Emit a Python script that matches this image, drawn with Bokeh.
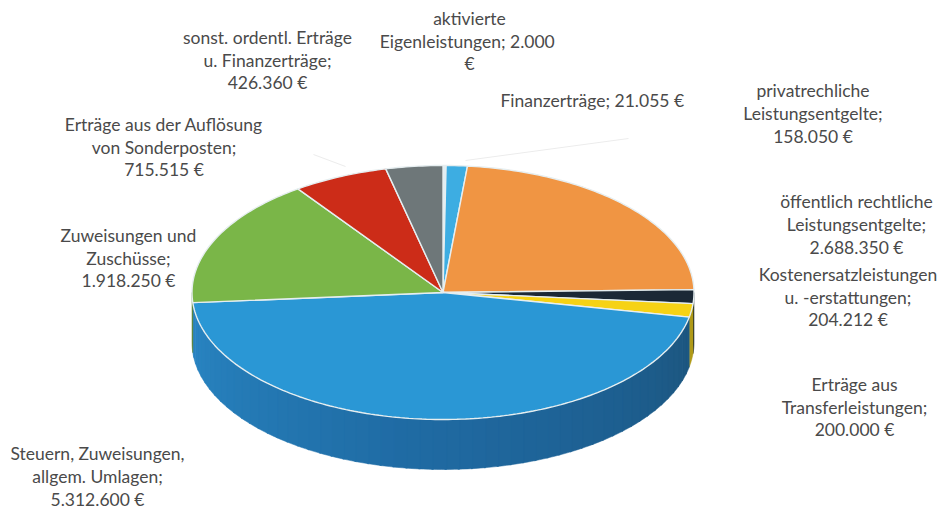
import numpy as np
from bokeh.plotting import figure
from bokeh.models import Range1d
from bokeh.embed import file_html
from bokeh.resources import INLINE
from bokeh.core.properties import value

names = ["aktivierte Eigenleistungen", "Finanzerträge", "privatrechtliche Leistungsentgelte",
         "öffentlich rechtliche Leistungsentgelte", "Kostenersatzleistungen u. -erstattungen",
         "Erträge aus Transferleistungen", "Steuern, Zuweisungen, allgem. Umlagen",
         "Zuweisungen und Zuschüsse", "Erträge aus der Auflösung von Sonderposten",
         "sonst. ordentl. Erträge u. Finanzerträge"]
amounts = [2000, 21055, 158050, 2688350, 204212, 200000, 5312600, 1918250, 715515, 426360]
top_colors = ["#dfeef5", "#dfeef5", "#3dade2", "#f09543", "#1b2836", "#f6d215", "#2a97d5",
              "#7ab648", "#cc2c18", "#6e7779"]
side_colors = ["#8a9aa0", "#2a7fa8", "#2a7fa8", "#a86a30", "#10202c", "#b09a18", "#2478b0",
               "#567f32", "#8f1f10", "#4d5355"]

label_lines = [
    ["aktivierte", "Eigenleistungen;  2.000", "€"],
    ["Finanzerträge;  21.055 €"],
    ["privatrechliche", "Leistungsentgelte;", "158.050 €"],
    ["öffentlich rechtliche", "Leistungsentgelte;", "2.688.350 €"],
    ["Kostenersatzleistungen", "u. -erstattungen;", "204.212 €"],
    ["Erträge aus", "Transferleistungen;", "200.000 €"],
    ["Steuern, Zuweisungen,", "allgem. Umlagen;", "5.312.600 €"],
    ["Zuweisungen und", "Zuschüsse;", "1.918.250 €"],
    ["Erträge aus der Auflösung", "von Sonderposten;", "715.515 €"],
    ["sonst. ordentl. Erträge", "u. Finanzerträge;", "426.360 €"],
]
# layout: label centre x and y of first line, in image pixels
label_pos = [(469, 18), (594, 100), (812.5, 90), (856, 201), (847.5, 274), (854, 384),
             (97, 453), (128, 235), (163.5, 124), (267, 37)]
label_gap = [22.5, 23, 23, 23, 22.5, 22.5, 23, 22.5, 22.5, 22.5]

CX, CY, RX, RY, DEPTH = 442.5, 292, 251, 127, 50

p = figure(width=940, height=510, output_backend="svg", toolbar_location=None,
           x_range=Range1d(0, 940), y_range=Range1d(510, 0),
           x_axis_location=None, y_axis_location=None, min_border=0)
p.outline_line_color = None
p.grid.visible = False
p.background_fill_color = "#ffffff"
p.border_fill_color = "#ffffff"


def ex(a):
    return CX + RX * np.sin(np.radians(a))


def ey(a):
    return CY - RY * np.cos(np.radians(a))


edges = np.concatenate([[0], np.cumsum(amounts)]) * 360.0 / sum(amounts)

# walls (only the front half of the ellipse shows)
wx, wy, wc = [], [], []
blue_stops = [(90, (29, 84, 122)), (140, (30, 96, 146)), (190, (32, 108, 165)),
              (240, (38, 125, 185)), (270, (44, 135, 198))]
for i, col in enumerate(side_colors):
    a0, a1 = max(edges[i], 90), min(edges[i + 1], 270)
    if a1 <= a0:
        continue
    if names[i].startswith("Steuern"):
        steps = np.arange(a0, a1, 3.0)
        for s in steps:
            e = min(s + 3.4, a1)
            t = np.linspace(s, e, 4)
            wx.append(np.concatenate([ex(t), ex(t[::-1])]))
            wy.append(np.concatenate([ey(t), ey(t[::-1]) + DEPTH]))
            m = (s + e) / 2
            xs = [b[0] for b in blue_stops]
            rgb = [int(np.interp(m, xs, [b[1][k] for b in blue_stops])) for k in range(3)]
            wc.append("#%02x%02x%02x" % tuple(rgb))
    else:
        t = np.linspace(a0, a1, 30)
        wx.append(np.concatenate([ex(t), ex(t[::-1])]))
        wy.append(np.concatenate([ey(t), ey(t[::-1]) + DEPTH]))
        wc.append(col)
p.patches(wx, wy, fill_color=wc, line_color=wc, line_width=0.5)

# faint leader lines
p.multi_line([[313, 345], [465, 628]], [[154, 166], [160, 138]], line_color="#ececec", line_width=1)

# top surface
sx, sy = [], []
for i in range(len(amounts)):
    t = np.linspace(edges[i], edges[i + 1], max(3, int(edges[i + 1] - edges[i]) + 2))
    sx.append(np.concatenate([[CX], ex(t)]))
    sy.append(np.concatenate([[CY], ey(t)]))
p.patches(sx, sy, fill_color=top_colors, line_color="#e6eef0", line_width=1.4)

# labels
tx, ty, tt = [], [], []
for lines, (x0, y0), gap in zip(label_lines, label_pos, label_gap):
    for j, line in enumerate(lines):
        tx.append(x0)
        ty.append(y0 + j * gap)
        tt.append(line)
p.text(tx, ty, text=tt, text_font=value("Lato"), text_font_size="17.5px", text_color="#4a4a4a",
       text_align="center", text_baseline="middle")

open("out.html", "w").write(file_html(p, INLINE))
